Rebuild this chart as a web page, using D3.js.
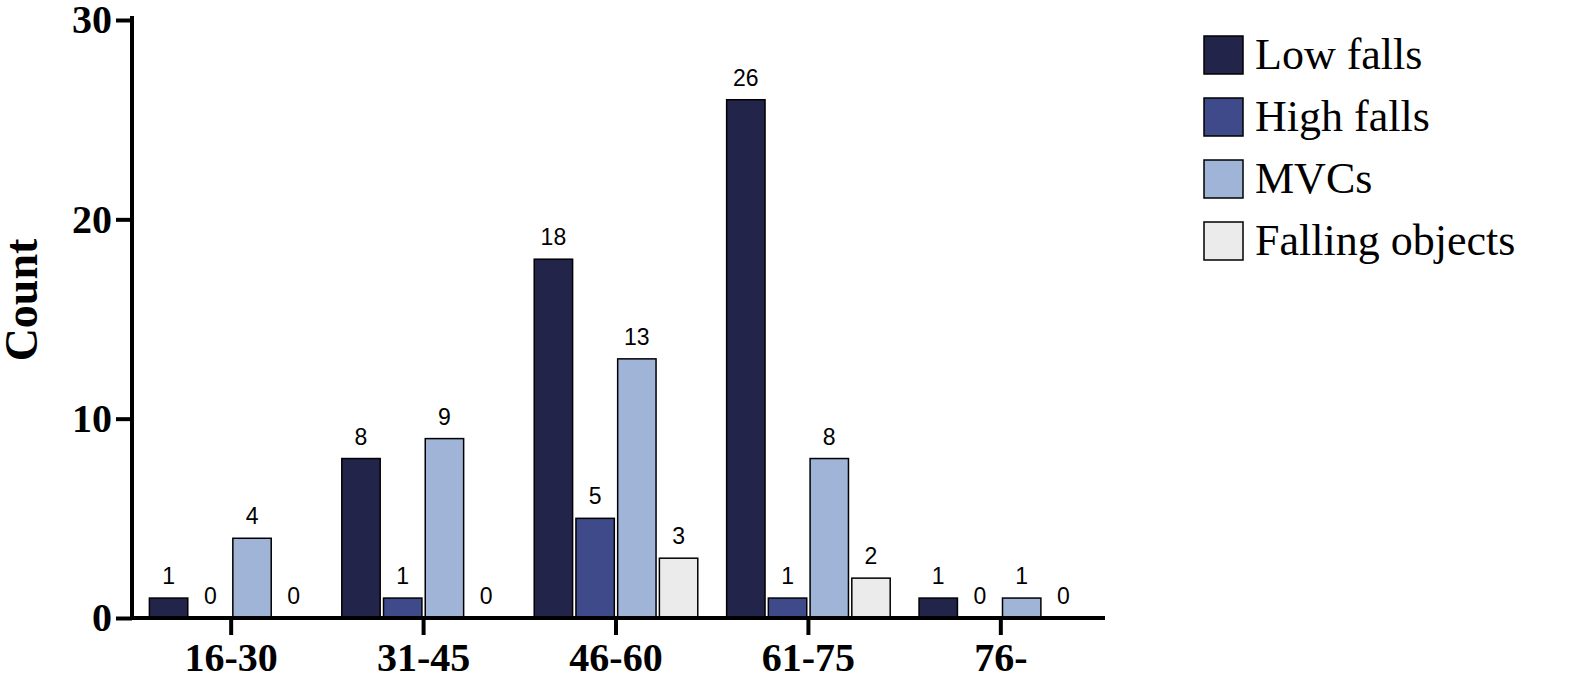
<!DOCTYPE html>
<html><head><meta charset="utf-8">
<script src="https://cdn.jsdelivr.net/npm/d3@7"></script>
<style>body{margin:0;background:#fff}</style>
</head><body>
<svg id="chart" width="1592" height="698"></svg>
<script>
const categories = ["16-30", "31-45", "46-60", "61-75", "76-"];
const seriesNames = ["Low falls", "High falls", "MVCs", "Falling objects"];
const lowFalls = [1, 8, 18, 26, 1];
const highFalls = [0, 1, 5, 1, 0];
const mvcs = [4, 9, 13, 8, 1];
const fallingObjects = [0, 0, 3, 2, 0];
const yTicks = [0, 10, 20, 30];
const colors = ["#22244a", "#3e4a8a", "#9fb4d6", "#ebebeb"];

const series = [lowFalls, highFalls, mvcs, fallingObjects];
const svg = d3.select("#chart");

const x = d3.scaleBand().domain(categories).range([134, 1098]).paddingInner(0.15).paddingOuter(0.08);
const xs = d3.scaleBand().domain(seriesNames).range([0, x.bandwidth()]).paddingInner(0.08);
const y = d3.scaleLinear().domain([0, 30]).range([618, 20]);

const groups = svg.append("g").selectAll("g").data(categories).join("g")
  .attr("transform", d => `translate(${x(d)},0)`);

groups.each(function(cat, ci) {
  const g = d3.select(this);
  seriesNames.forEach((name, si) => {
    const v = series[si][ci];
    if (v > 0) {
      g.append("rect")
        .attr("x", xs(name)).attr("y", y(v))
        .attr("width", xs.bandwidth()).attr("height", y(0) - y(v))
        .attr("fill", colors[si]).attr("stroke", "#000").attr("stroke-width", 1.5);
    }
    g.append("text")
      .attr("x", xs(name) + xs.bandwidth() / 2).attr("y", y(v) - 14)
      .attr("text-anchor", "middle")
      .style("font-family", "Liberation Sans, Arial, sans-serif").style("font-size", "23px")
      .text(v);
  });
});

const font = "Liberation Serif, Times New Roman, serif";

const yAxis = svg.append("g").attr("transform", "translate(132,0)")
  .call(d3.axisLeft(y).tickValues(yTicks).tickSize(16).tickPadding(4));
yAxis.select(".domain").attr("stroke-width", 4).attr("d", `M0,${y(30) - 4}V${y(0) + 2}`);
yAxis.selectAll(".tick line").attr("stroke-width", 4);
yAxis.selectAll("text").style("font-family", font).style("font-size", "40px").style("font-weight", "bold");

const xAxis = svg.append("g").attr("transform", `translate(0,${y(0)})`)
  .call(d3.axisBottom(x).tickSize(17).tickPadding(8));
xAxis.select(".domain").attr("stroke-width", 4).attr("d", "M130,0H1105");
xAxis.selectAll(".tick line").attr("stroke-width", 4);
xAxis.selectAll("text").style("font-family", font).style("font-size", "40px").style("font-weight", "bold");

svg.append("text")
  .attr("transform", "translate(37,300) rotate(-90)")
  .attr("text-anchor", "middle")
  .style("font-family", font).style("font-size", "46px").style("font-weight", "bold")
  .text("Count");

const legend = svg.append("g").selectAll("g").data(seriesNames).join("g")
  .attr("transform", (d, i) => `translate(1204,${36 + i * 62})`);
legend.append("rect").attr("width", 39).attr("height", 38)
  .attr("fill", (d, i) => colors[i]).attr("stroke", "#000").attr("stroke-width", 1.5);
legend.append("text").attr("x", 51).attr("y", 33)
  .style("font-family", font).style("font-size", "44px")
  .text(d => d);
</script>
</body></html>
